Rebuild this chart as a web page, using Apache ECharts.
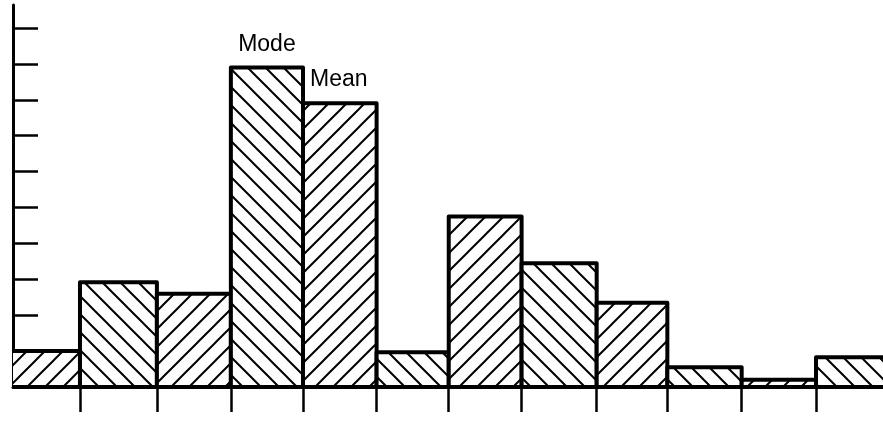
<!DOCTYPE html>
<html lang="en">

<head>
  <meta charset="UTF-8">
  <title>Mode and Mean</title>
  <script src="https://cdn.jsdelivr.net/npm/echarts@6/dist/echarts.min.js"></script>
</head>

<body style="margin:0;background:#fff">
  <div id="main" style="width: 883px;height:421px"></div>
  <script>
    // bin edges as drawn (hand-drawn, so not perfectly even) and heights
    var edges = [0, 1.0, 2.045, 3.05, 4.03, 5.03, 6.01, 7.0, 8.02, 8.98, 9.99, 11.0, 12.0]
    var freq = [1.0, 2.92, 2.6, 8.9, 7.9, 0.97, 4.75, 3.45, 2.35, 0.55, 0.2, 0.83]
    var hatch = ['/', '\\', '/', '\\', '/', '\\', '/', '\\', '/', '\\', '/', '\\']
    var notes = ['', '', '', 'Mode', 'Mean', '', '', '', '', '', '', '']
    var yTicks = [1, 2, 3, 4, 5, 6, 7, 8, 9, 10]
    var xTicks = edges.slice(1, 12)

    // hatch tile drawn on a small canvas
    function makeHatch(dir) {
      var s = 18
      var c = document.createElement('canvas')
      c.width = s
      c.height = s
      var ctx = c.getContext('2d')
      ctx.fillStyle = '#fff'
      ctx.fillRect(0, 0, s, s)
      ctx.strokeStyle = '#000'
      ctx.lineWidth = 2
      ctx.beginPath()
      if (dir == '/') {
        ctx.moveTo(-2, s + 2); ctx.lineTo(s + 2, -2)
        ctx.moveTo(-2, 2); ctx.lineTo(2, -2)
        ctx.moveTo(s - 2, s + 2); ctx.lineTo(s + 2, s - 2)
      } else {
        ctx.moveTo(-2, -2); ctx.lineTo(s + 2, s + 2)
        ctx.moveTo(s - 2, -2); ctx.lineTo(s + 2, 2)
        ctx.moveTo(-2, s - 2); ctx.lineTo(2, s + 2)
      }
      ctx.stroke()
      return c
    }
    var patterns = {
      '/': { image: makeHatch('/'), repeat: 'repeat' },
      '\\': { image: makeHatch('\\'), repeat: 'repeat' }
    }

    var data = []
    for (var i = 0; i < freq.length; i++) {
      data.push([edges[i], edges[i + 1], freq[i]])
    }

    function renderItem(params, api) {
      var i = params.dataIndex
      var p0 = api.coord([api.value(0), 0])
      var p1 = api.coord([api.value(1), api.value(2)])
      var children = [{
        type: 'rect',
        shape: { x: p0[0], y: p1[1], width: p1[0] - p0[0], height: p0[1] - p1[1] },
        style: { fill: patterns[hatch[i]], stroke: '#000', lineWidth: 4, lineJoin: 'round' }
      }]
      var font = '23px "Liberation Sans", Arial, sans-serif'
      if (notes[i] == 'Mode') {
        children.push({
          type: 'text', x: (p0[0] + p1[0]) / 2, y: p1[1] - 11,
          style: { text: notes[i], font: font, fill: '#000', align: 'center', verticalAlign: 'bottom' }
        })
      } else if (notes[i] == 'Mean') {
        children.push({
          type: 'text', x: p0[0] + 7, y: p1[1] - 12,
          style: { text: notes[i], font: font, fill: '#000', align: 'left', verticalAlign: 'bottom' }
        })
      }
      return { type: 'group', children: children }
    }

    var mCharts = echarts.init(document.getElementById('main'))
    var option = {
      animation: false,
      grid: { left: 13, right: 0, top: 5, bottom: 34, containLabel: false },
      xAxis: {
        type: 'value',
        min: 0.09,
        max: 11.91,
        axisLine: { show: true, onZero: false, lineStyle: { color: '#000', width: 3 } },
        axisTick: { show: true, customValues: xTicks, length: 25, lineStyle: { color: '#000', width: 2.5 } },
        axisLabel: { show: false },
        splitLine: { show: false }
      },
      yAxis: {
        type: 'value',
        min: 0,
        max: 10.64,
        axisLine: { show: true, lineStyle: { color: '#000', width: 3 } },
        axisTick: { show: true, inside: true, customValues: yTicks, length: 25, lineStyle: { color: '#000', width: 2.5 } },
        axisLabel: { show: false },
        splitLine: { show: false }
      },
      series: [
        {
          type: 'custom',
          renderItem: renderItem,
          clip: true,
          encode: { x: [0, 1], y: 2 },
          data: data
        }
      ]
    }
    mCharts.setOption(option)
  </script>
</body>

</html>
